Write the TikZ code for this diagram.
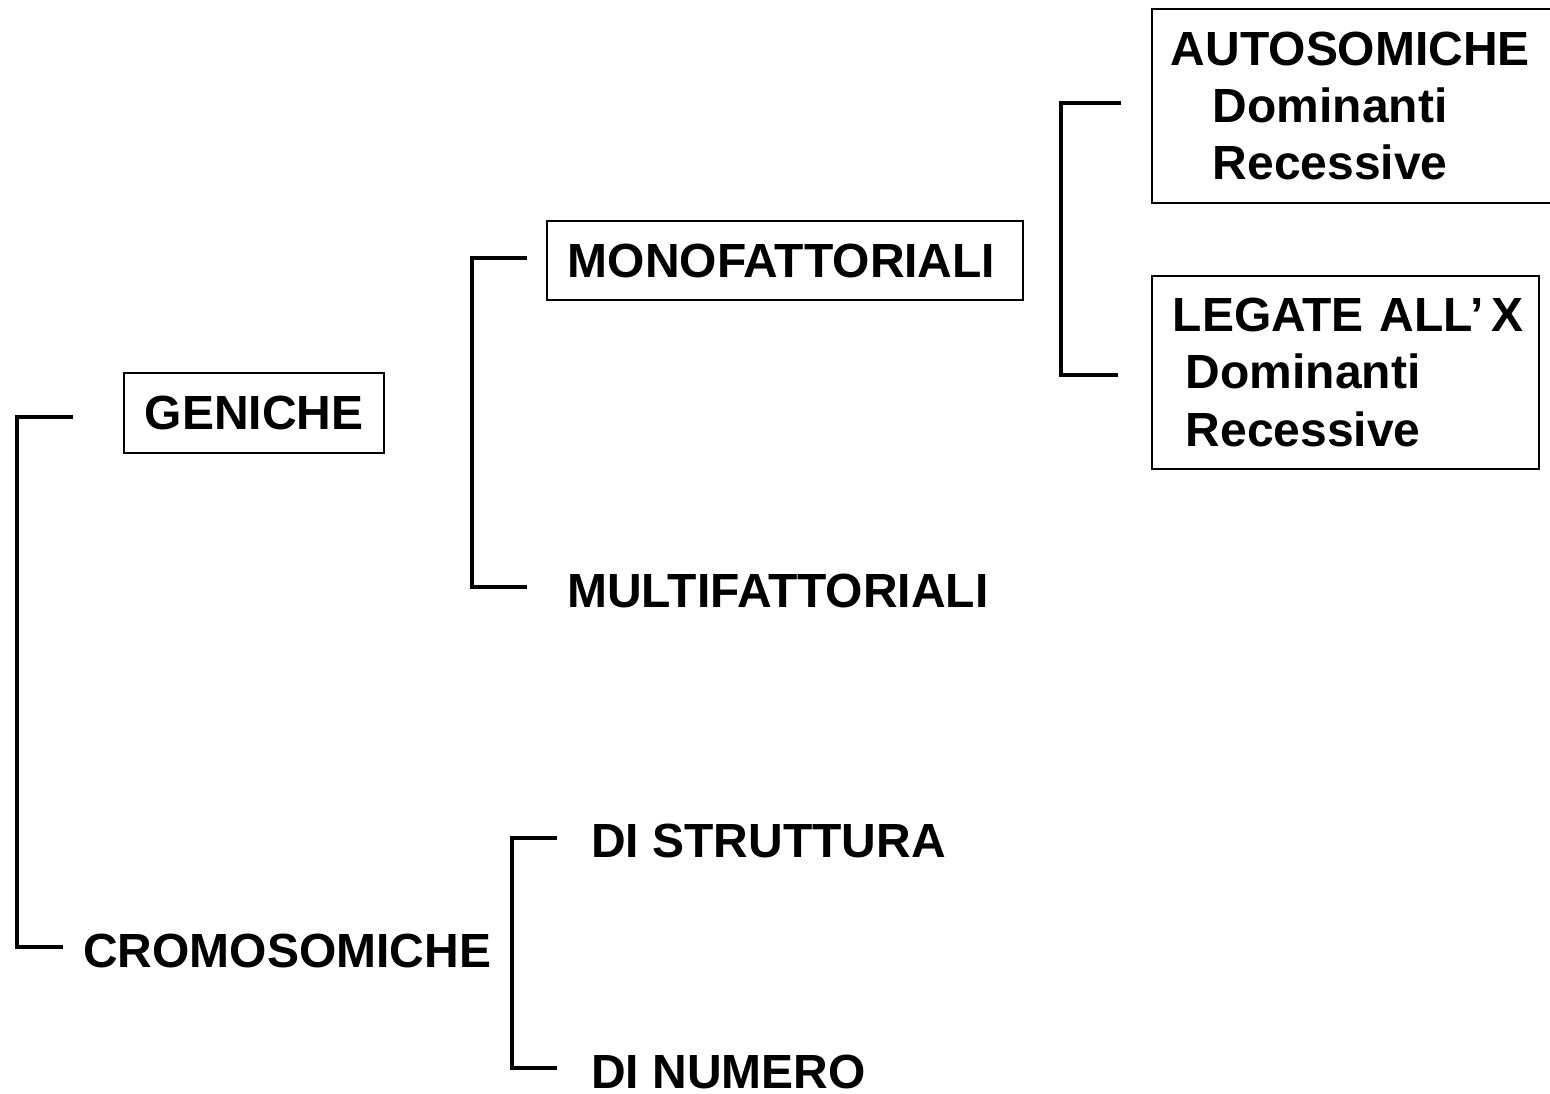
\documentclass[tikz,border=0pt]{standalone}
\usepackage{fontspec}
\setmainfont{Liberation Sans}
\usepackage{tikz}
\usetikzlibrary{positioning}

\begin{document}
\begin{tikzpicture}[x=0.02cm,y=-0.02cm,
    box/.style={draw=black,line width=1.1pt,rectangle,inner sep=0pt,font=\fontsize{27.3}{32.7}\selectfont\bfseries},
    txt/.style={inner sep=0pt,anchor=base west,font=\fontsize{27.3}{32.7}\selectfont\bfseries},
    brace/.style={line width=2.3pt}]

    \useasboundingbox (0,0) rectangle (1550,1094);

    % First level
    \node[box,minimum width=5.2cm,minimum height=1.6cm] (gen) at (254,413) {GENICHE};
    \node[txt] (cro) at (83,967) {CROMOSOMICHE};

    % Second level
    \node[box,anchor=west,text width=8.68cm,inner xsep=0.42cm,minimum height=1.58cm,align=left] (mono) at (546,260.5) {MONOFATTORIALI};
    \node[txt] (multi) at (567,607) {MULTIFATTORIALI};
    \node[txt] (strut) at (591,857) {DI STRUTTURA};
    \node[txt] (num) at (591,1088) {DI NUMERO};

    % Third level
    \node[box,anchor=north west,text width=7.22cm,inner xsep=0.38cm,minimum height=3.88cm,align=left] (auto) at (1151,8)
        {AUTOSOMICHE\\\hspace*{0.84cm}Dominanti\\\hspace*{0.84cm}Recessive};
    \node[box,anchor=north west,text width=6.9cm,inner xsep=0.42cm,minimum height=3.86cm,align=left] (leg) at (1151,275)
        {\mbox{LEGATE ALL’\,X}\\\hspace*{0.26cm}Dominanti\\\hspace*{0.26cm}Recessive};

    % Bracket ends
    \coordinate (genin) at (73,417);
    \coordinate (croin) at (63,947);
    \coordinate (monoin) at (527,258);
    \coordinate (multiin) at (527,587);
    \coordinate (autoin) at (1121,103);
    \coordinate (legin) at (1118,375);
    \coordinate (strutin) at (557,838);
    \coordinate (numin) at (557,1068);

    % Brackets
    \draw[brace] (genin) -- ++(-56,0) |- (croin);
    \draw[brace] (monoin) -- ++(-55,0) |- (multiin);
    \draw[brace] (autoin) -- ++(-60,0) |- (legin);
    \draw[brace] (strutin) -- ++(-45,0) |- (numin);

\end{tikzpicture}
\end{document}
